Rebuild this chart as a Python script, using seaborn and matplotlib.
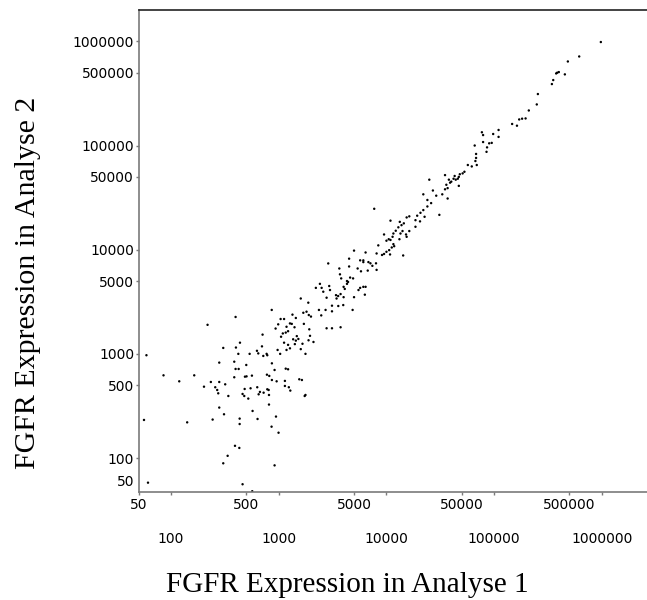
import matplotlib
matplotlib.use("Agg")
import matplotlib.pyplot as plt
import pandas as pd
import seaborn as sns
from matplotlib.ticker import FixedLocator, FixedFormatter, NullLocator

# FGFR expression in Analyse 1 (x) and Analyse 2 (y)
analyse1 = [
    980000, 617000, 484000, 385000, 399000, 377000, 454000, 354000, 344000, 255000,
    249000, 210000, 196000, 182000, 171000, 163000, 147000, 110000, 98000, 110000,
    77000, 79000, 79000, 95000, 90000, 86000, 85000, 66000, 68000, 68000,
    67000, 69000, 62000, 57000, 53000, 51000, 48000, 47000, 46000, 43000,
    44000, 42000, 40000, 39000, 38000, 36000, 35000, 37000, 35000, 47000,
    25000, 27000, 22000, 29000, 33000, 37000, 24000,
    7700, 31000, 26000, 24000, 22000, 20700, 22600, 19300, 18600, 20500,
    18600, 16300, 15400, 14500, 13300, 13800, 12900, 12200, 11600, 10900,
    11400, 16300, 15200, 15400, 13500, 14100, 13200, 10500, 10000, 10900,
    9500, 11600, 11800, 11200, 10600, 10000, 9500, 9100, 10800, 14300,
    8400, 8100, 8000, 8100, 7400, 7100, 6800, 6400, 6100, 5700,
    6100, 6700, 5800, 5400, 5000, 4500, 4500, 4900, 4600, 4400,
    4300, 4000, 4100, 3650, 3700, 3800, 4300, 6100, 6400, 5700,
    5500, 6300, 5000, 4000, 3750, 3560, 3400, 3440, 2990, 2940,
    2880, 2590, 2500, 2410, 2210, 2780, 1600,
    860, 218, 397, 305, 400, 436, 707, 698, 934, 988,
    1040, 1120, 1160, 1220, 1340, 1440, 1320, 1270, 1180, 1090,
    1050, 1120, 1220, 1400, 1470, 1440, 1360, 1410, 1520, 1660,
    1690, 1710, 1810, 1900, 1990, 1920, 1950, 1890, 2100, 1880,
    2360, 2480, 2720, 3120, 3120, 3570, 3970, 4850, 2780, 3120,
    3750, 1600, 1770, 975, 1030, 1180, 1270, 771, 782, 718,
    645, 627, 536, 863, 914, 776, 816, 863, 955, 499,
    485, 502, 563, 386, 397, 424, 421, 386, 280, 1160,
    1220, 1140, 1140, 1240, 1280, 1740, 1770, 1550, 1640, 59,
    85, 119, 164, 202, 234, 257, 268, 274, 280, 318,
    340, 461, 478, 521, 482, 547, 631, 668, 650, 723,
    805, 811, 782, 811, 280, 310, 243, 141, 56, 433,
    433, 635, 571, 942, 857, 995, 392, 430, 335, 305,
    914, 61, 461, 567,
]
analyse2 = [
    985000, 716000, 641000, 500000, 507000, 492000, 482000, 425000, 389000, 312000,
    248000, 217000, 182000, 181000, 178000, 155000, 161000, 141000, 129000, 121000,
    134000, 126000, 108000, 106000, 105000, 96000, 87000, 100000, 83000, 76000,
    71000, 65000, 63000, 65000, 56000, 54000, 53000, 50000, 48000, 51000,
    47000, 48000, 45000, 44000, 47000, 42000, 52000, 39000, 38000, 41000,
    47000, 37000, 34000, 33000, 34000, 31000, 30000,
    24700, 21600, 28000, 26000, 24000, 22600, 20700, 21200, 19200, 18700,
    16600, 20900, 20400, 17900, 18500, 17200, 16400, 15200, 14300, 19000,
    13300, 15100, 14000, 13300, 14300, 15100, 12600, 12600, 12200, 12400,
    14000, 11300, 10800, 10500, 9900, 9550, 9100, 8900, 9000, 8800,
    11000, 9200, 7400, 6400, 7000, 7400, 7600, 9400, 7900, 7900,
    7600, 6300, 6200, 6600, 9800, 8200, 6900, 5300, 5400, 4900,
    4700, 4400, 4200, 6600, 5800, 5300, 5000, 4400, 4400, 4300,
    4100, 3700, 3500, 3500, 3750, 3590, 3660, 3400, 4100, 4480,
    7380, 3950, 4300, 4700, 4300, 3460, 3400,
    2640, 1900, 2260, 1140, 1150, 1280, 1530, 1180, 1750, 1920,
    2160, 2160, 1600, 1650, 2380, 2210, 1940, 1960, 1820, 1570,
    1460, 1280, 1220, 1800, 1480, 1340, 1380, 1240, 1390, 1250,
    2480, 1940, 2540, 2360, 2280, 1720, 1490, 1350, 1300, 3100,
    2640, 2340, 2640, 2560, 2900, 2880, 2940, 2640, 1760, 1760,
    1800, 1110, 1000, 1090, 1000, 1090, 1130, 1000, 970, 955,
    1010, 1070, 1000, 811, 700, 631, 614, 561, 545, 782,
    604, 608, 618, 841, 716, 716, 1000, 596, 824, 721,
    711, 550, 492, 478, 444, 394, 403, 570, 561, 970,
    622, 545, 622, 484, 537, 478, 450, 418, 537, 510,
    394, 412, 394, 372, 460, 467, 478, 431, 409, 424,
    450, 403, 457, 326, 305, 263, 234, 220, 232, 239,
    212, 237, 283, 250, 200, 175, 131, 125, 105, 89,
    85, 58, 56, 48,
]

x_row1 = [50, 500, 5000, 50000, 500000]
x_row2 = [100, 1000, 10000, 100000, 1000000]
y_ticks = [100, 500, 1000, 5000, 10000, 50000, 100000, 500000, 1000000]
y_extra_label = 50

x_title = "FGFR Expression in Analyse 1"
y_title = "FGFR Expression in Analyse 2"

sns.set_theme(style="white")
plt.rcParams['font.family'] = ['DejaVu Sans']

spine_grey = "#7a7a7a"

fig = plt.figure(figsize=(6.47, 6.0), dpi=100)
ax = fig.add_axes([138.7 / 647, (600 - 491.7) / 600, (647 - 138.7) / 647, (491.7 - 10) / 600])

df = pd.DataFrame({"a1": analyse1, "a2": analyse2})
sns.scatterplot(data=df, x="a1", y="a2", ax=ax, color="black", s=3,
                linewidth=0, edgecolor="none", legend=False)

ax.set_xscale("log")
ax.set_yscale("log")
ax.set_xlim(50, 2.63e6)
ax.set_ylim(47.5, 2.0e6)

ax.xaxis.set_major_locator(FixedLocator(x_row1))
ax.xaxis.set_major_formatter(FixedFormatter([str(v) for v in x_row1]))
ax.xaxis.set_minor_locator(FixedLocator(x_row2))
ax.xaxis.set_minor_formatter(FixedFormatter([str(v) for v in x_row2]))
ax.yaxis.set_major_locator(FixedLocator(y_ticks))
ax.yaxis.set_major_formatter(FixedFormatter([str(v) for v in y_ticks]))
ax.yaxis.set_minor_locator(NullLocator())

ax.tick_params(axis="x", which="major", bottom=True, length=2.5, width=1,
               color=spine_grey, pad=2, labelsize=10, labelcolor="black", direction="out")
ax.tick_params(axis="x", which="minor", bottom=True, length=2.5, width=1,
               color=spine_grey, pad=26.5, labelsize=10, labelcolor="black", direction="out")
ax.tick_params(axis="y", which="major", left=True, length=2.5, width=1,
               color=spine_grey, pad=0.8, labelsize=10, labelcolor="black", direction="out")

ax.annotate(str(y_extra_label), xy=(0, y_extra_label), xycoords=ax.get_yaxis_transform(),
            xytext=(-4.5, 7.5), textcoords="offset pixels", ha="right", va="center",
            fontsize=10, color="black")

for side in ["left", "bottom"]:
    ax.spines[side].set_color(spine_grey)
    ax.spines[side].set_linewidth(1.2)
ax.spines["top"].set_color("#222222")
ax.spines["top"].set_linewidth(1.2)
ax.spines["right"].set_visible(False)

ax.set_xlabel(x_title, fontsize=21, family=["Liberation Serif", "DejaVu Serif"], color="black")
ax.set_ylabel(y_title, fontsize=21.5, family=["Liberation Serif", "DejaVu Serif"], color="black")
ax.xaxis.label.set_va("baseline")
ax.xaxis.set_label_coords((347 - 138.7) / 508.3, -(591.7 - 491.7) / 481.7)
ax.yaxis.label.set_va("baseline")
ax.yaxis.label.set_rotation_mode("anchor")
ax.yaxis.set_label_coords((35 - 138.7) / 508.3, (491.7 - 283) / 481.7)

fig.savefig("out.png", dpi=100)
